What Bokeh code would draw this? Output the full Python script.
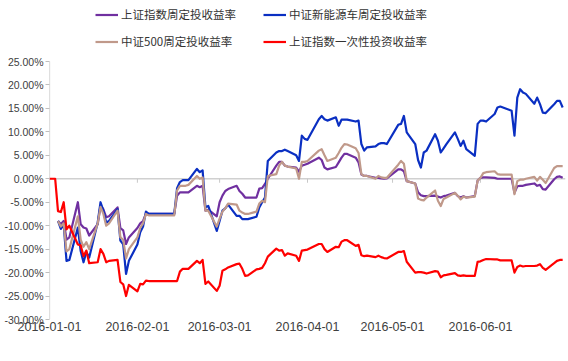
import pandas as pd
from bokeh.plotting import figure
from bokeh.models import (Range1d, FixedTicker, PrintfTickFormatter, DatetimeTickFormatter,
                          Legend, LegendItem, Span, ColumnDataSource)
from bokeh.embed import file_html
from bokeh.resources import INLINE

# ---------------- data (percent) ----------------
# trading days, plus the flat holiday ends (2016-02-14, 2016-06-12)
dates = [
    "2016-01-04", "2016-01-05", "2016-01-06", "2016-01-07", "2016-01-08", "2016-01-11", "2016-01-12",
    "2016-01-13", "2016-01-14", "2016-01-15", "2016-01-18", "2016-01-19", "2016-01-20", "2016-01-21",
    "2016-01-22", "2016-01-25", "2016-01-26", "2016-01-27", "2016-01-28", "2016-01-29",
    "2016-02-01", "2016-02-02", "2016-02-03", "2016-02-04", "2016-02-05", "2016-02-14", "2016-02-15",
    "2016-02-16", "2016-02-17", "2016-02-18", "2016-02-19", "2016-02-22", "2016-02-23", "2016-02-24",
    "2016-02-25", "2016-02-26", "2016-02-29",
    "2016-03-01", "2016-03-02", "2016-03-03", "2016-03-04", "2016-03-07", "2016-03-08", "2016-03-09",
    "2016-03-10", "2016-03-11", "2016-03-14", "2016-03-15", "2016-03-16", "2016-03-17", "2016-03-18",
    "2016-03-21", "2016-03-22", "2016-03-23", "2016-03-24", "2016-03-25", "2016-03-28", "2016-03-29",
    "2016-03-30", "2016-03-31",
    "2016-04-01", "2016-04-05", "2016-04-06", "2016-04-07", "2016-04-08", "2016-04-11", "2016-04-12",
    "2016-04-13", "2016-04-14", "2016-04-15", "2016-04-18", "2016-04-19", "2016-04-20", "2016-04-21",
    "2016-04-22", "2016-04-25", "2016-04-26", "2016-04-27", "2016-04-28", "2016-04-29",
    "2016-05-03", "2016-05-04", "2016-05-05", "2016-05-06", "2016-05-09", "2016-05-10", "2016-05-11",
    "2016-05-12", "2016-05-13", "2016-05-16", "2016-05-17", "2016-05-18", "2016-05-19", "2016-05-20",
    "2016-05-23", "2016-05-24", "2016-05-25", "2016-05-26", "2016-05-27", "2016-05-30", "2016-05-31",
    "2016-06-01", "2016-06-02", "2016-06-03", "2016-06-06", "2016-06-07", "2016-06-08", "2016-06-12",
    "2016-06-13", "2016-06-14", "2016-06-15", "2016-06-16", "2016-06-17", "2016-06-20", "2016-06-21",
    "2016-06-22", "2016-06-23", "2016-06-24", "2016-06-27", "2016-06-28", "2016-06-29", "2016-06-30",
]

sh_fixed = [  # 上证指数周定投收益率
    -9.0, -9.7, -9.0, -13.0, -12.5, -5.0, -9.7, -10.4, -10.6, -12.1, -9.7, -5.7, -6.5, -8.2, -8.0, -6.1,
    -10.5, -11.0, -13.9, -12.5,
    -10.5, -9.5, -9.0, -7.5, -7.5, -7.5, -3.6, -2.9, -2.9, -2.9, -2.9, -1.5, -1.8, -1.5, -6.8, -6.6,
    -8.0,
    -5.0, -3.6, -2.6, -2.2, -1.5, -2.6, -3.2, -4.0, -4.0, -4.0, -2.1, -2.0, -1.1, 0.0, 2.8, 3.6, 3.6,
    2.8, 2.6, 2.4, 1.5, 2.8, 3.0,
    3.2, 4.5, 4.0, 2.4, 2.0, 2.5, 3.5, 4.5, 5.3, 5.3, 4.5, 3.5, 0.9, 0.6, 0.6, 0.2, 0.2, 0.1, 0.0, 0.1,
    2.0, 2.0, 1.6, -0.5, -1.0, -2.9, -3.5, -3.7, -3.7, -3.6, -3.8, -4.0, -3.7, -3.6, -3.0, -3.7, -4.0,
    -3.7, -4.0, -3.7, -0.4,
    0.2, 0.3, 0.3, 0.2, 0.0, 0.0, 0.0, -3.0, -1.6, -1.5, -1.5, -1.3, -1.0, -1.5, -1.3, -2.2, -2.3,
    -0.1, 0.4, 0.5, 0.2,
]

nev_fixed = [  # 中证新能源车周定投收益率
    -9.0, -10.7, -9.7, -17.5, -17.3, -10.4, -15.4, -17.8, -15.6, -16.8, -9.3, -5.0, -6.8, -9.3, -9.0,
    -6.5, -13.2, -14.0, -20.3, -17.5,
    -14.0, -11.4, -10.2, -7.0, -7.5, -7.5, -2.0, -0.7, -0.3, -0.3, -0.3, 2.1, 1.4, 1.8, -6.1, -5.8,
    -11.1,
    -9.0, -6.8, -6.3, -5.5, -7.9, -7.9, -8.6, -8.6, -8.6, -8.1, -6.1, -5.0, -4.0, 3.8, 5.6, 5.9, 5.9,
    6.2, 5.9, 5.0, 3.8, 9.2, 8.5,
    8.3, 12.7, 13.4, 12.7, 12.4, 13.1, 11.3, 12.6, 12.6, 12.6, 12.2, 12.4, 7.4, 6.0, 6.7, 6.9, 7.4,
    7.6, 7.6, 7.4,
    11.5, 11.7, 13.4, 9.9, 7.4, 4.0, 2.4, 5.6, 6.0, 9.5, 8.1, 5.6, 6.5, 7.4, 9.9, 8.5, 7.0, 8.1, 6.3,
    4.9, 11.7,
    12.4, 12.4, 12.2, 13.8, 15.2, 15.4, 14.5, 9.2, 17.3, 19.1, 18.4, 18.1, 16.0, 17.3, 15.9, 14.1,
    14.0, 15.9, 16.6, 16.6, 15.2,
]

zz500_fixed = [  # 中证500周定投收益率
    -9.0, -10.2, -9.5, -15.5, -15.0, -8.0, -13.0, -14.5, -13.5, -15.0, -9.5, -6.0, -7.5, -10.0, -9.5,
    -6.8, -12.5, -13.0, -17.0, -15.0,
    -12.5, -10.5, -9.5, -7.5, -7.8, -7.8, -2.5, -1.5, -1.5, -1.5, -1.3, 0.6, 0.0, 0.3, -6.8, -6.8,
    -10.2,
    -8.5, -7.0, -6.3, -5.3, -5.5, -6.8, -7.2, -7.5, -7.5, -7.0, -5.3, -4.7, -5.0, 0.6, 1.0, 2.8, 3.6,
    2.8, 2.6, 2.2, 0.0, 3.6, 3.6,
    3.8, 6.0, 6.3, 5.0, 3.8, 4.5, 5.5, 6.6, 7.4, 7.3, 6.5, 5.5, 1.0, 0.6, 0.6, 0.0, 0.6, 0.3, 0.2, 0.2,
    3.0, 3.8, 3.2, -0.5, -1.0, -4.2, -4.5, -4.6, -4.0, -2.5, -4.7, -5.8, -4.3, -4.0, -3.0, -3.6, -4.4,
    -3.8, -4.0, -3.8, -0.4,
    0.2, 1.2, 1.4, 1.6, 1.0, 0.9, 0.9, -3.3, -0.5, -0.2, -0.2, 0.0, 0.4, -0.4, 0.4, -0.2, -0.9, 2.3,
    2.7, 2.7, 2.7,
]

red_dates = ["2016-01-01", "2016-01-03"] + dates
sh_lump = [  # 上证指数一次性投资收益率
    0.0, 0.0,
    -6.9, -7.1, -5.0, -10.8, -10.0, -14.0, -14.2, -16.5, -15.3, -18.0, -17.8, -15.0, -16.0, -17.8,
    -17.5, -17.3, -22.0, -22.5, -25.0, -22.6,
    -24.0, -22.4, -22.5, -21.7, -21.8, -21.8, -21.8, -19.8, -19.2, -19.2, -19.2, -17.5, -18.0, -17.3,
    -22.4, -21.9, -23.9,
    -22.8, -19.6, -19.3, -18.9, -18.2, -18.1, -19.2, -20.7, -20.6, -19.3, -19.2, -19.0, -18.0, -16.6,
    -14.9, -15.3, -15.2, -16.4, -15.9, -16.4, -17.5, -15.3, -15.2,
    -15.1, -13.9, -13.9, -15.0, -15.6, -14.5, -14.6, -13.4, -13.1, -13.1, -14.3, -14.1, -16.3, -16.5,
    -16.4, -16.7, -16.4, -16.7, -16.9, -17.0,
    -15.6, -15.6, -15.4, -17.7, -20.0, -19.9, -19.9, -20.0, -20.2, -19.7, -19.8, -21.0, -20.6, -20.5,
    -20.1, -20.6, -20.7, -20.6, -20.7, -20.7, -17.7,
    -17.6, -17.3, -17.1, -17.2, -17.2, -17.4, -17.4, -20.0, -18.8, -18.5, -18.7, -18.6, -18.6, -18.5,
    -18.2, -19.0, -19.4, -18.0, -17.5, -17.3, -17.3,
]

x_tick_labels = ["2016-01-01", "2016-02-01", "2016-03-01", "2016-04-01", "2016-05-01", "2016-06-01"]
y_tick_values = [-30, -25, -20, -15, -10, -5, 0, 5, 10, 15, 20, 25]

names = ["上证指数周定投收益率", "中证新能源车周定投收益率", "中证500周定投收益率", "上证指数一次性投资收益率"]
colors = ["#7030A0", "#0A2FC2", "#C0998A", "#FF0000"]

# ---------------- figure ----------------
x_start = pd.Timestamp("2016-01-01")
x_end = pd.Timestamp("2016-07-01")
y_lo, y_hi = y_tick_values[0], y_tick_values[-1]
FRAME_H = 319
px_per_unit = 258 / (y_hi - y_lo)
y_top = y_lo + FRAME_H / px_per_unit          # headroom above 25% holds the legend

p = figure(title=None, frame_width=516, frame_height=FRAME_H, x_axis_type="datetime",
           output_backend="svg", toolbar_location=None,
           x_range=Range1d(x_start, x_end), y_range=Range1d(y_lo, y_top),
           min_border_top=0, min_border_right=3, min_border_left=49, min_border_bottom=0)
p.background_fill_color = "white"
p.outline_line_color = None
p.xgrid.visible = False
p.ygrid.visible = False

# zero line (horizontal axis position) and its month ticks
p.add_layout(Span(location=0, dimension="width", line_color="#D0D0D0", line_width=1.6, level="underlay"))
tick_ts = pd.to_datetime(x_tick_labels[1:])
p.segment(x0=tick_ts, y0=[0] * len(tick_ts), x1=tick_ts, y1=[-0.85] * len(tick_ts),
          line_color="#C8C8C8", line_width=1)
# vertical axis line limited to the tick span
p.segment(x0=[x_start], y0=[y_lo], x1=[x_start], y1=[y_hi], line_color="#BFBFBF", line_width=1.2)

renderers = []
series = [(dates, sh_fixed), (dates, nev_fixed), (dates, zz500_fixed), (red_dates, sh_lump)]
for (d, vals), c in zip(series, colors):
    src = ColumnDataSource(dict(x=pd.to_datetime(d), y=vals))
    r = p.line(x="x", y="y", source=src, line_color=c, line_width=2.2, line_join="round")
    renderers.append(r)

# axes
xax = p.xaxis[0]
xax.ticker = FixedTicker(ticks=[int(t.value // 10**6) for t in pd.to_datetime(x_tick_labels)])
fmt = "%Y-%m-%d"
xax.formatter = DatetimeTickFormatter(milliseconds=fmt, seconds=fmt, minsec=fmt, minutes=fmt,
                                      hourmin=fmt, hours=fmt, days=fmt, months=fmt, years=fmt)
xax.axis_line_color = None
xax.major_tick_line_color = None
xax.minor_tick_line_color = None
xax.major_tick_out = 0
xax.major_label_standoff = 2
xax.major_label_text_font = "Liberation Sans"
xax.major_label_text_font_size = "12.5px"
xax.major_label_text_color = "#404040"

yax = p.yaxis[0]
yax.ticker = FixedTicker(ticks=y_tick_values)
yax.formatter = PrintfTickFormatter(format="%.2f%%")
yax.axis_line_color = None
yax.major_tick_line_color = "#BFBFBF"
yax.major_tick_out = 4
yax.major_tick_in = 0
yax.minor_tick_line_color = None
yax.major_label_standoff = 2
yax.major_label_text_font = "Liberation Sans"
yax.major_label_text_font_size = "10.5px"
yax.major_label_text_color = "#404040"

# legends: two columns in the headroom (location = bottom-left corner, from frame bottom-left)
def make_legend(items, x_off):
    return Legend(items=items, location=(x_off, 270), orientation="vertical",
                  padding=0, margin=0, spacing=11, glyph_width=23, glyph_height=13,
                  label_height=13, label_standoff=3,
                  label_text_font="Noto Sans CJK SC", label_text_font_size="11.5px",
                  label_text_color="#333333", background_fill_alpha=0, border_line_alpha=0)

leg1 = make_legend([LegendItem(label=names[0], renderers=[renderers[0]]),
                    LegendItem(label=names[2], renderers=[renderers[2]])], 46)
leg2 = make_legend([LegendItem(label=names[1], renderers=[renderers[1]]),
                    LegendItem(label=names[3], renderers=[renderers[3]])], 214)
p.add_layout(leg1)
p.add_layout(leg2)

open("out.html", "w").write(file_html(p, INLINE))
